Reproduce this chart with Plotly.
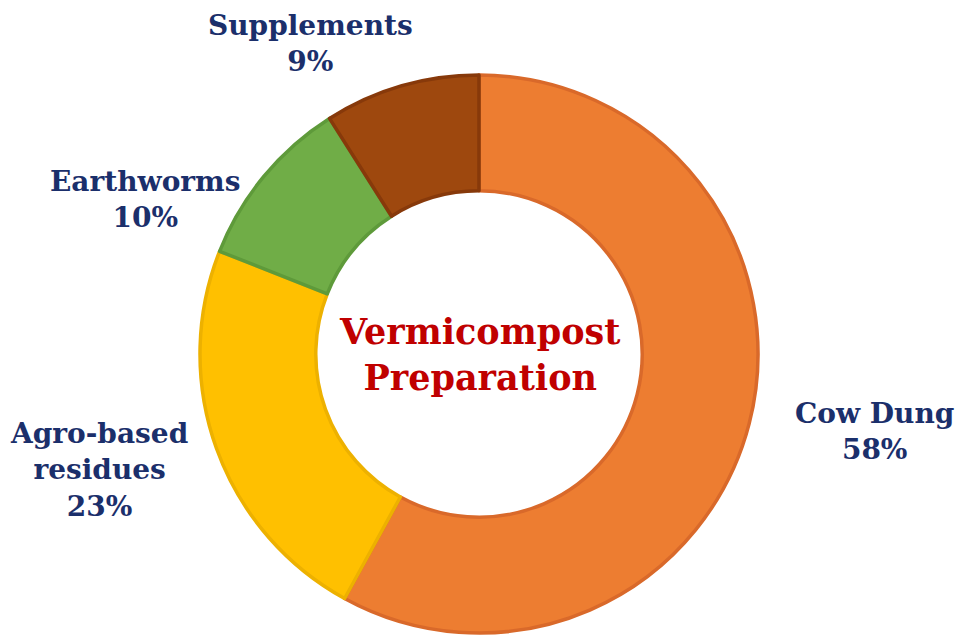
# vermicompost_donut.py

import plotly.graph_objects as go

# Data
categories = ["Cow Dung", "Agro-based residues", "Earthworms", "Supplements"]
shares = [58, 23, 10, 9]
label_lines = ["Cow Dung", "Agro-based<br>residues", "Earthworms", "Supplements"]

fill_colors = ["#ED7D31", "#FFC000", "#70AD47", "#9E480E"]
edge_colors = ["#D9692A", "#EDB100", "#5E9A3A", "#87390A"]

W, H = 969, 641
PAGE = 8  # default body margin of the html page
cx, cy, r = 479 - PAGE, 354 - PAGE, 279

fig = go.Figure(go.Pie(
    labels=categories,
    values=shares,
    hole=0.585,
    sort=False,
    direction="clockwise",
    rotation=0,
    textinfo="none",
    hoverinfo="label+percent",
    marker=dict(colors=fill_colors, line=dict(color=edge_colors, width=3.5)),
    domain=dict(x=[(cx - r) / W, (cx + r) / W], y=[(H - cy - r) / H, (H - cy + r) / H]),
    showlegend=False,
))

# Outside labels (pixel anchors converted to paper coords)
label_pos = [(874, 431), (99, 470), (145, 199), (310, 43)]
font_lbl = dict(family="DejaVu Serif", size=28, color="#1B2F6B")
annotations = []
for name, val, (px_, py_) in zip(label_lines, shares, label_pos):
    annotations.append(dict(
        text=f"<b>{name}<br>{val}%</b>",
        x=(px_ - PAGE) / W, y=1 - (py_ - PAGE) / H, xref="paper", yref="paper",
        xanchor="center", yanchor="middle", showarrow=False,
        font=font_lbl, align="center", borderpad=0,
    ))

annotations.append(dict(
    text="<b>Vermicompost<br>Preparation</b>",
    x=cx / W, y=1 - cy / H, xref="paper", yref="paper",
    xanchor="center", yanchor="middle", showarrow=False,
    font=dict(family="DejaVu Serif", size=35, color="#C00000"), align="center",
))

fig.update_layout(
    width=W, height=H,
    margin=dict(l=0, r=0, t=0, b=0),
    paper_bgcolor="white", plot_bgcolor="white",
    annotations=annotations,
)

fig.write_html("out.html")
